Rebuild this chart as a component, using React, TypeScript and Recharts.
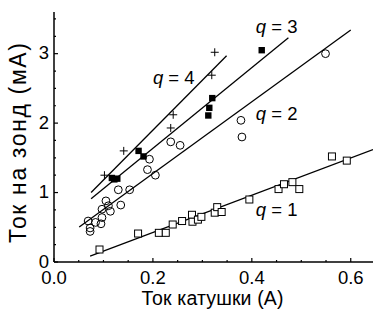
import React from 'react';
import { ScatterChart, Scatter, XAxis, YAxis } from 'recharts';

// q = 1, open squares
const q1Points = [
    { x: 0.092, y: 0.18 }, { x: 0.170, y: 0.41 }, { x: 0.212, y: 0.42 }, { x: 0.226, y: 0.42 },
    { x: 0.240, y: 0.54 }, { x: 0.259, y: 0.59 }, { x: 0.279, y: 0.68 }, { x: 0.280, y: 0.58 },
    { x: 0.291, y: 0.61 }, { x: 0.298, y: 0.65 }, { x: 0.325, y: 0.71 }, { x: 0.330, y: 0.79 },
    { x: 0.339, y: 0.72 }, { x: 0.395, y: 0.90 }, { x: 0.454, y: 1.05 }, { x: 0.465, y: 1.12 },
    { x: 0.482, y: 1.15 }, { x: 0.496, y: 1.05 }, { x: 0.562, y: 1.52 }, { x: 0.592, y: 1.46 },
];
// q = 2, open circles
const q2Points = [
    { x: 0.069, y: 0.59 }, { x: 0.073, y: 0.49 }, { x: 0.073, y: 0.44 }, { x: 0.084, y: 0.57 },
    { x: 0.095, y: 0.55 }, { x: 0.097, y: 0.64 }, { x: 0.097, y: 0.76 }, { x: 0.105, y: 0.88 },
    { x: 0.110, y: 0.81 }, { x: 0.114, y: 0.73 }, { x: 0.130, y: 1.04 }, { x: 0.135, y: 0.82 },
    { x: 0.153, y: 1.04 }, { x: 0.189, y: 1.33 }, { x: 0.193, y: 1.48 }, { x: 0.205, y: 1.25 },
    { x: 0.236, y: 1.73 }, { x: 0.255, y: 1.68 }, { x: 0.378, y: 2.04 }, { x: 0.380, y: 1.80 },
    { x: 0.549, y: 3.00 },
];
// q = 3, filled squares
const q3Points = [
    { x: 0.117, y: 1.21 }, { x: 0.122, y: 1.19 }, { x: 0.128, y: 1.20 }, { x: 0.171, y: 1.60 },
    { x: 0.181, y: 1.52 }, { x: 0.312, y: 2.11 }, { x: 0.314, y: 2.22 }, { x: 0.320, y: 2.36 },
    { x: 0.420, y: 3.05 },
];
// q = 4, crosses
const q4Points = [
    { x: 0.102, y: 1.25 }, { x: 0.141, y: 1.60 }, { x: 0.236, y: 1.93 },
    { x: 0.241, y: 2.12 }, { x: 0.319, y: 2.69 }, { x: 0.325, y: 3.02 },
];

// linear fits (end points)
const q1Fit = [{ x: 0.073, y: 0.086 }, { x: 0.645, y: 1.62 }];
const q2Fit = [{ x: 0.051, y: 0.503 }, { x: 0.600, y: 3.34 }];
const q3Fit = [{ x: 0.075, y: 0.91 }, { x: 0.474, y: 3.23 }];
const q4Fit = [{ x: 0.075, y: 1.00 }, { x: 0.349, y: 2.97 }];

const curveLabels = [
    { x: 0.200, y: 2.57, q: 4 },
    { x: 0.408, y: 3.30, q: 3 },
    { x: 0.408, y: 2.05, q: 2 },
    { x: 0.408, y: 0.66, q: 1 },
];

const xTicks = [0, 0.05, 0.1, 0.15, 0.2, 0.25, 0.3, 0.35, 0.4, 0.45, 0.5, 0.55, 0.6];
const yTicks = [0, 0.25, 0.5, 0.75, 1, 1.25, 1.5, 1.75, 2, 2.25, 2.5, 2.75, 3, 3.25, 3.5];

const FONT = 'Arial, "Liberation Sans", sans-serif';
const INK = '#000';

const isMajor = (v: number, step: number) => Math.abs(v / step - Math.round(v / step)) < 1e-6;

const Tick = (props: any) => {
    const { x, y, payload, orient } = props;
    const v = payload.value as number;
    const major = orient === 'bottom' || orient === 'top' ? isMajor(v, 0.2) : isMajor(v, 1);
    const len = major ? 4 : 2;
    if (orient === 'bottom') {
        return (
            <g>
                <line x1={x} x2={x} y1={y} y2={y - len} stroke={INK} strokeWidth={1.2} />
                {major && (
                    <text x={x} y={y + 22} textAnchor="middle" fontSize={18.5} fontFamily={FONT} fill={INK}>
                        {v.toFixed(1)}
                    </text>
                )}
            </g>
        );
    }
    if (orient === 'top') {
        return <line x1={x} x2={x} y1={y} y2={y + len} stroke={INK} strokeWidth={1.2} />;
    }
    if (orient === 'left') {
        return (
            <g>
                <line x1={x} x2={x + len} y1={y} y2={y} stroke={INK} strokeWidth={1.2} />
                {major && (
                    <text x={x - 5} y={y + 5.5} textAnchor="end" fontSize={18.5} fontFamily={FONT} fill={INK}>
                        {String(v)}
                    </text>
                )}
            </g>
        );
    }
    return <line x1={x} x2={x - len} y1={y} y2={y} stroke={INK} strokeWidth={1.2} />;
};

const OpenSquare = ({ cx, cy }: any) => (
    <rect x={cx - 3.5} y={cy - 3.5} width={7} height={7} fill="#fff" stroke={INK} strokeWidth={1} />
);
const OpenCircle = ({ cx, cy }: any) => (
    <circle cx={cx} cy={cy} r={3.9} fill="none" stroke={INK} strokeWidth={1} />
);
const FilledSquare = ({ cx, cy }: any) => (
    <rect x={cx - 3.2} y={cy - 3.2} width={6.4} height={6.4} fill={INK} />
);
const Cross = ({ cx, cy }: any) => (
    <g stroke={INK} strokeWidth={1}>
        <line x1={cx - 4} x2={cx + 4} y1={cy} y2={cy} />
        <line x1={cx} x2={cx} y1={cy - 4} y2={cy + 4} />
    </g>
);
const Nothing = () => <g />;

const CurveLabel = ({ cx, cy, payload }: any) => (
    <text x={cx} y={cy} fontSize={18.5} fontFamily={FONT} fill={INK}>
        <tspan fontStyle="italic">q</tspan>
        {` = ${payload.q}`}
    </text>
);

const axisLine = { stroke: INK, strokeWidth: 1.5 };
const fitLine = { stroke: INK, strokeWidth: 1.3 };

export default function App() {
    return (
        <div style={{ position: 'absolute', left: 0, top: 0, width: 374, height: 313, background: '#fff' }}>
            <ScatterChart width={374} height={313} margin={{ top: 12, right: 1, bottom: 0, left: 0 }}>
                <XAxis
                    type="number" dataKey="x" domain={[0, 0.645]} allowDataOverflow
                    ticks={xTicks} interval={0} height={51} tickSize={0} tickMargin={0}
                    tickLine={false} axisLine={axisLine} tick={<Tick orient="bottom" />}
                    label={{
                        content: ({ viewBox }: any) => (
                            <text x={viewBox.x + viewBox.width / 2 - 1} y={305} textAnchor="middle"
                                fontSize={19.5} fontFamily={FONT} fill={INK} textLength={142} lengthAdjust="spacing">
                                Ток катушки (А)
                            </text>
                        ),
                    }}
                />
                <XAxis
                    xAxisId="top" orientation="top" type="number" dataKey="x" domain={[0, 0.645]} allowDataOverflow
                    ticks={xTicks} interval={0} height={0} tickSize={0} tickMargin={0}
                    tickLine={false} axisLine={axisLine} tick={<Tick orient="top" />}
                />
                <YAxis
                    type="number" dataKey="y" domain={[0, 3.6]} allowDataOverflow
                    ticks={yTicks} interval={0} width={54} tickSize={0} tickMargin={0}
                    tickLine={false} axisLine={axisLine} tick={<Tick orient="left" />}
                    label={{
                        content: ({ viewBox }: any) => {
                            const cy = viewBox.y + viewBox.height / 2 + 6;
                            return (
                                <text x={26} y={cy} transform={`rotate(-90 26 ${cy})`} textAnchor="middle"
                                    fontSize={23} fontFamily={FONT} fill={INK} textLength={200} lengthAdjust="spacing">
                                    Ток на зонд (мА)
                                </text>
                            );
                        },
                    }}
                />
                <YAxis
                    yAxisId="right" orientation="right" type="number" dataKey="y" domain={[0, 3.6]} allowDataOverflow
                    ticks={yTicks} interval={0} width={0} tickSize={0} tickMargin={0}
                    tickLine={false} axisLine={axisLine} tick={<Tick orient="right" />}
                />

                <Scatter data={q1Fit} line={fitLine} shape={Nothing} isAnimationActive={false} />
                <Scatter data={q2Fit} line={fitLine} shape={Nothing} isAnimationActive={false} />
                <Scatter data={q3Fit} line={fitLine} shape={Nothing} isAnimationActive={false} />
                <Scatter data={q4Fit} line={fitLine} shape={Nothing} isAnimationActive={false} />

                <Scatter data={q1Points} shape={OpenSquare} isAnimationActive={false} />
                <Scatter data={q2Points} shape={OpenCircle} isAnimationActive={false} />
                <Scatter data={q3Points} shape={FilledSquare} isAnimationActive={false} />
                <Scatter data={q4Points} shape={Cross} isAnimationActive={false} />

                <Scatter data={curveLabels} shape={CurveLabel} isAnimationActive={false} />
            </ScatterChart>
        </div>
    );
}
